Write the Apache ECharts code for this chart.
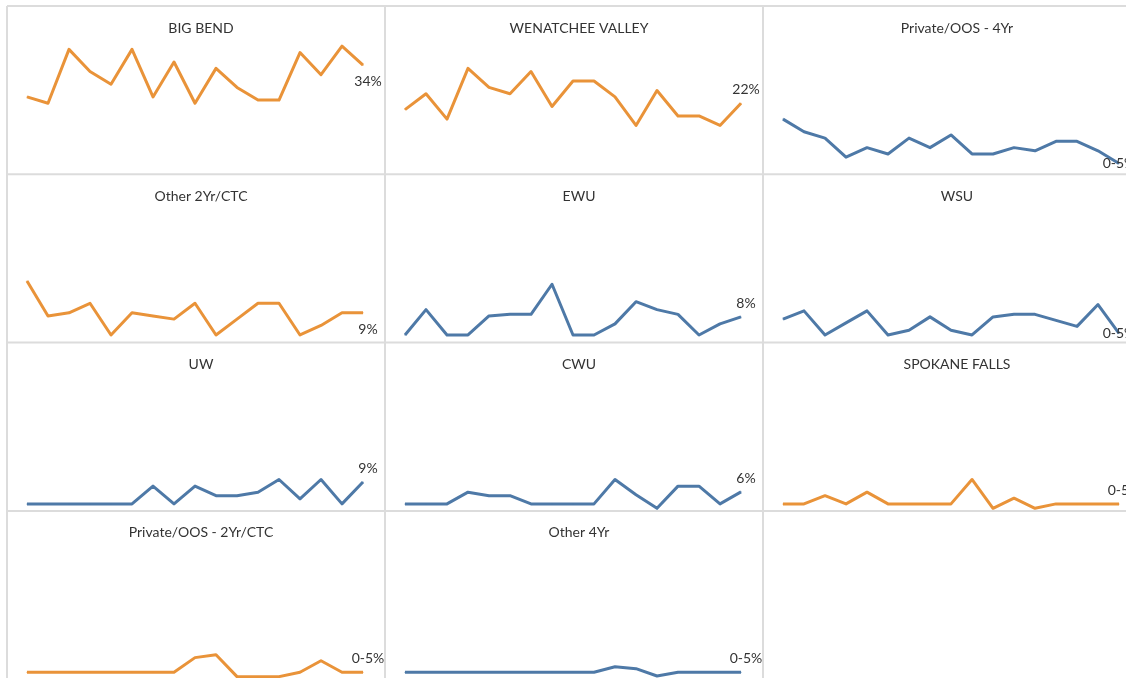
<!DOCTYPE html>
<html>
<head>
<meta charset="utf-8">
<script src="https://cdn.jsdelivr.net/npm/echarts@6/dist/echarts.min.js"></script>
<style>
  html, body { margin: 0; padding: 0; background: #ffffff; }
  #chart { width: 1126px; height: 678px; }
</style>
</head>
<body>
<div id="chart"></div>
<script>
// ---- Data ----
const periods = ['T1','T2','T3','T4','T5','T6','T7','T8','T9','T10','T11','T12','T13','T14','T15','T16','T17'];

const panelTitles = ['BIG BEND', 'WENATCHEE VALLEY', 'Private/OOS - 4Yr',
                     'Other 2Yr/CTC', 'EWU', 'WSU',
                     'UW', 'CWU', 'SPOKANE FALLS',
                     'Private/OOS - 2Yr/CTC', 'Other 4Yr'];

const bigBend      = [24, 22, 39, 32, 28, 39, 24, 35, 22, 33, 27, 23, 23, 38, 31, 40, 34];
const wenatchee    = [20, 25, 17, 33, 27, 25, 32, 21, 29, 29, 24, 15, 26, 18, 18, 15, 22];
const private4Yr   = [17, 13, 11, 5, 8, 6, 11, 8, 12, 6, 6, 8, 7, 10, 10, 7, 3];
const other2Yr     = [19, 8, 9, 12, 2, 9, 8, 7, 12, 2, 7, 12, 12, 2, 5, 9, 9];
const ewu          = [2, 10, 2, 2, 8, 8.5, 8.5, 18, 2, 2, 5.5, 12.5, 10, 8.5, 2, 5.5, 7.7];
const wsu          = [7, 9.6, 2, 5.8, 9.6, 2, 3.5, 7.7, 3.5, 2, 7.7, 8.5, 8.5, 6.6, 4.7, 11.6, 2.5];
const uw           = [1.8, 1.8, 1.8, 1.8, 1.8, 1.8, 7.4, 1.8, 7.4, 4.4, 4.4, 5.5, 9.5, 3.4, 9.5, 1.8, 8.7];
const cwu          = [1.8, 1.8, 1.8, 5.5, 4.4, 4.4, 1.8, 1.8, 1.8, 1.8, 9.5, 4.7, 0.4, 7.4, 7.4, 1.8, 5.6];
const spokaneFalls = [1.8, 1.8, 4.4, 1.8, 5.5, 1.8, 1.8, 1.8, 1.8, 9.5, 0.4, 3.6, 0.4, 1.8, 1.8, 1.8, 1.8];
const private2Yr   = [1.8, 1.8, 1.8, 1.8, 1.8, 1.8, 1.8, 1.8, 6.4, 7.3, 0.4, 0.4, 0.4, 1.8, 5.4, 1.8, 1.8];
const other4Yr     = [1.8, 1.8, 1.8, 1.8, 1.8, 1.8, 1.8, 1.8, 1.8, 1.8, 3.5, 2.9, 0.6, 1.8, 1.8, 1.8, 1.8];

const endLabels = ['34%', '22%', '0-5%', '9%', '8%', '0-5%', '9%', '6%', '0-5%', '0-5%', '0-5%'];
const collegeType = ['2yr', '2yr', '4yr', '2yr', '4yr', '4yr', '4yr', '4yr', '2yr', '2yr', '4yr'];

const panelValues = [bigBend, wenatchee, private4Yr, other2Yr, ewu, wsu, uw, cwu, spokaneFalls, private2Yr, other4Yr];

// ---- Layout / styles ----
const ORANGE = '#E99339';
const BLUE = '#4E79A7';
const FONT = 'Lato, "Noto Sans", sans-serif';
const COL_X0 = 7, COL_W = 378;
const ROW_Y0 = 6, ROW_H = 168.3;
const PX_PER_PCT = 3.17;
const labelPlacement = ['bottom', 'top', 'inside', 'bottom', 'top', 'inside', 'top', 'top', 'top', 'top', 'top'];

const grids = [], xAxes = [], yAxes = [], series = [], titles = [];
panelValues.forEach((vals, i) => {
  const c = i % 3, r = Math.floor(i / 3);
  const px = COL_X0 + COL_W * c;
  const py = ROW_Y0 + ROW_H * r;
  const zeroY = py + 167;
  const h = 166;
  grids.push({ left: px + 20, top: zeroY - h, width: 336, height: h, containLabel: false });
  xAxes.push({ type: 'category', gridIndex: i, data: periods, boundaryGap: false, show: false });
  yAxes.push({ type: 'value', gridIndex: i, min: 0, max: h / PX_PER_PCT, show: false });
  titles.push({
    text: panelTitles[i], left: px + COL_W / 2, top: py + 10, textAlign: 'center',
    textStyle: { fontFamily: FONT, fontSize: 14, fontWeight: 'normal', color: '#333333' }
  });
  const color = collegeType[i] === '2yr' ? ORANGE : BLUE;
  const pos = labelPlacement[i];
  const data = vals.map((v, k) => {
    if (k !== vals.length - 1) return v;
    return {
      value: v,
      label: {
        show: true,
        formatter: endLabels[i],
        position: pos,
        distance: pos === 'inside' ? 0 : (pos === 'bottom' ? 9 : 6),
        offset: pos === 'inside' ? [0, 0] : [5, 0],
        fontFamily: FONT, fontSize: 14, color: '#333333'
      }
    };
  });
  series.push({
    type: 'line', xAxisIndex: i, yAxisIndex: i, data: data,
    symbol: 'circle', symbolSize: 1, showSymbol: true, clip: false,
    lineStyle: { color: color, width: 3, join: 'round' },
    itemStyle: { color: color },
    label: { show: false },
    emphasis: { disabled: true },
    silent: true, animation: false
  });
});

// Panel divider lines
const graphics = [];
const LINE = '#dcdcdc';
for (let c = 0; c <= 3; c++) {
  const x = COL_X0 + COL_W * c;
  graphics.push({ type: 'line', shape: { x1: x, y1: ROW_Y0, x2: x, y2: 700 }, style: { stroke: LINE, lineWidth: 2 }, silent: true });
}
for (let r = 0; r <= 4; r++) {
  const y = ROW_Y0 + ROW_H * r;
  graphics.push({ type: 'line', shape: { x1: COL_X0, y1: y, x2: 1200, y2: y }, style: { stroke: LINE, lineWidth: 2 }, silent: true });
}

const chart = echarts.init(document.getElementById('chart'), null, { renderer: 'canvas' });
chart.setOption({
  animation: false,
  backgroundColor: '#ffffff',
  title: titles,
  grid: grids,
  xAxis: xAxes,
  yAxis: yAxes,
  series: series,
  graphic: graphics,
  tooltip: { show: false }
});
</script>
</body>
</html>
